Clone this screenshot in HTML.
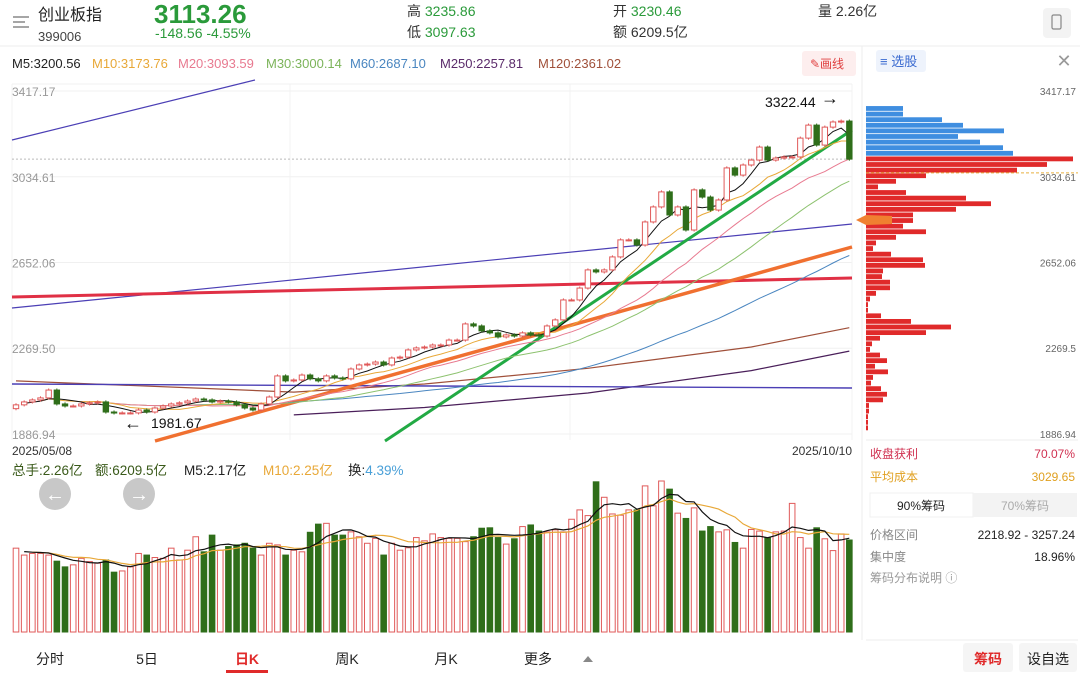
<!DOCTYPE html>
<html><head><meta charset="utf-8">
<style>
body{margin:0;width:1080px;height:675px;background:#fff;overflow:hidden;font-family:"Liberation Sans","Noto Sans CJK SC",sans-serif;}
svg{position:absolute;left:0;top:0}
text{font-family:"Liberation Sans","Noto Sans CJK SC",sans-serif}
</style></head><body>
<svg id="svg" width="1080" height="675" viewBox="0 0 1080 675">
<g>
  <g><line x1="13" y1="17" x2="29" y2="17" stroke="#888" stroke-width="1.5"/><line x1="13" y1="22" x2="25" y2="22" stroke="#888" stroke-width="1.5"/><line x1="13" y1="27" x2="29" y2="27" stroke="#888" stroke-width="1.5"/></g>
  <text x="38" y="20" font-size="16" fill="#222">创业板指</text>
  <text x="38" y="41" font-size="13" fill="#444">399006</text>
  <text x="154" y="23" font-size="26" fill="#2a9a3a" font-weight="bold">3113.26</text>
  <text x="155" y="38" font-size="14" fill="#2a9a3a">-148.56  -4.55%</text>
  <text x="407" y="16" font-size="14" fill="#2a9a3a"><tspan fill="#333">高</tspan> 3235.86</text>
  <text x="407" y="37" font-size="14" fill="#2a9a3a"><tspan fill="#333">低</tspan> 3097.63</text>
  <text x="613" y="16" font-size="14" fill="#2a9a3a"><tspan fill="#333">开</tspan> 3230.46</text>
  <text x="613" y="37" font-size="14" fill="#333">额 6209.5亿</text>
  <text x="818" y="16" font-size="14" fill="#333">量 2.26亿</text>
  <rect x="1043" y="8" width="28" height="30" rx="4" fill="#f3f3f3"/>
  <rect x="1052" y="15" width="9" height="14" rx="1.5" fill="none" stroke="#888" stroke-width="1.2"/>
  <line x1="0" y1="46" x2="1080" y2="46" stroke="#eee"/>
</g>
<g font-size="13">
  <text x="12" y="68" fill="#222">M5:3200.56</text>
  <text x="92" y="68" fill="#e8a838">M10:3173.76</text>
  <text x="178" y="68" fill="#e87a90">M20:3093.59</text>
  <text x="266" y="68" fill="#7cb45a">M30:3000.14</text>
  <text x="350" y="68" fill="#4a86c0">M60:2687.10</text>
  <text x="440" y="68" fill="#5a2a6a">M250:2257.81</text>
  <text x="538" y="68" fill="#a0503a">M120:2361.02</text>
  <rect x="802" y="51" width="54" height="25" rx="3" fill="#fdeeee"/>
  <text x="810" y="68" fill="#e04040" font-size="12">✎画线</text>
</g>
<line x1="862" y1="46" x2="862" y2="640" stroke="#eee"/>
<line x1="12" y1="84" x2="852" y2="84" stroke="#f0f0f0"/>
<g id="grid"></g>
<g id="chips"></g>
<g id="main"></g>
<g id="vol"></g>
<g>
  <text x="765" y="107" font-size="14" fill="#111">3322.44</text>
  <text x="821" y="104" font-size="18" fill="#111">→</text>
  <text x="124" y="429" font-size="18" fill="#111">←</text>
  <text x="151" y="428" font-size="14" fill="#111">1981.67</text>
  <text x="12" y="455" font-size="12" fill="#333">2025/05/08</text>
  <text x="852" y="455" font-size="12" fill="#333" text-anchor="end">2025/10/10</text>
</g>
<g font-size="13.5">
  <text x="12" y="475" fill="#3a5a1a">总手:2.26亿</text>
  <text x="95" y="475" fill="#3a5a1a">额:6209.5亿</text>
  <text x="184" y="475" fill="#222">M5:2.17亿</text>
  <text x="263" y="475" fill="#e8a838">M10:2.25亿</text>
  <text x="348" y="475" fill="#222">换:<tspan fill="#4aa0d8">4.39%</tspan></text>
</g>
<g><circle cx="55" cy="494" r="16" fill="#c8c8c8"/><text x="55" y="501" font-size="20" fill="#fff" text-anchor="middle">←</text></g>
<g><circle cx="139" cy="494" r="16" fill="#c8c8c8"/><text x="139" y="501" font-size="20" fill="#fff" text-anchor="middle">→</text></g>
<g font-size="12">
  <line x1="866" y1="440" x2="1078" y2="440" stroke="#eee"/>
  <text x="870" y="458" fill="#d03050">收盘获利</text><text x="1075" y="458" fill="#d03050" text-anchor="end">70.07%</text>
  <text x="870" y="481" fill="#e0a020">平均成本</text><text x="1075" y="481" fill="#e0a020" text-anchor="end">3029.65</text>
  <rect x="870" y="493" width="103" height="24" fill="#fff" stroke="#f0f0f0"/>
  <rect x="973" y="493" width="104" height="24" fill="#f3f3f3"/>
  <text x="921" y="510" fill="#222" text-anchor="middle">90%筹码</text>
  <text x="1025" y="510" fill="#aaa" text-anchor="middle">70%筹码</text>
  <text x="870" y="539" fill="#888">价格区间</text><text x="1075" y="539" fill="#222" text-anchor="end">2218.92 - 3257.24</text>
  <text x="870" y="561" fill="#888">集中度</text><text x="1075" y="561" fill="#222" text-anchor="end">18.96%</text>
  <text x="870" y="582" fill="#999">筹码分布说明 ⓘ</text>
  <line x1="866" y1="640" x2="1078" y2="640" stroke="#eee"/>
</g>
<g><rect x="876" y="50" width="50" height="22" rx="3" fill="#eef3fc"/><text x="880" y="66" font-size="13" fill="#3a6ad0">≡ 选股</text></g>
<text x="1064" y="67" font-size="18" fill="#999" text-anchor="middle">✕</text>
<g font-size="14" fill="#222">
  <text x="50" y="664" text-anchor="middle">分时</text>
  <text x="147" y="664" text-anchor="middle">5日</text>
  <text x="247" y="664" text-anchor="middle" fill="#e02a2a" font-weight="bold">日K</text>
  <rect x="226" y="670" width="42" height="3" fill="#e02a2a"/>
  <text x="347" y="664" text-anchor="middle">周K</text>
  <text x="446" y="664" text-anchor="middle">月K</text>
  <text x="538" y="664" text-anchor="middle">更多</text>
  <polygon points="583,662 593,662 588,656" fill="#888"/>
  <rect x="963" y="643" width="50" height="29" rx="3" fill="#f5f5f5"/>
  <text x="988" y="664" text-anchor="middle" fill="#e02a2a" font-weight="bold">筹码</text>
  <rect x="1019" y="643" width="58" height="29" rx="3" fill="#f5f5f5"/>
  <text x="1048" y="664" text-anchor="middle">设自选</text>
</g>
</svg>
<script>
const closes=[2017,2030,2039,2048,2083,2021,2012,2012,2021,2026,
2030,1985,1981,1981,1981,1994,1985,2003,2012,2021,
2026,2034,2043,2039,2030,2034,2030,2017,2003,1994,
2021,2052,2146,2124,2128,2150,2133,2124,2146,2137,
2133,2177,2195,2199,2208,2195,2226,2230,2262,2271,
2275,2284,2284,2306,2306,2378,2369,2347,2338,2320,
2329,2324,2338,2329,2324,2369,2396,2485,2485,2538,
2619,2610,2619,2677,2753,2753,2730,2833,2900,2967,
2864,2900,2797,2976,2944,2886,2931,3074,3042,3087,
3109,3167,3109,3118,3123,3123,3207,3265,3176,3256,
3279,3283,3113.26];
const firstOpen=2000;
const volumes=[2.06,1.89,1.93,1.93,1.89,1.74,1.60,1.65,1.81,1.73,
1.69,1.77,1.47,1.50,1.60,1.93,1.89,1.83,1.81,2.06,
1.77,2.01,2.34,1.97,2.38,2.01,2.10,2.14,2.18,2.06,
1.89,2.18,2.14,1.89,2.01,1.97,2.45,2.65,2.67,2.38,
2.38,2.46,2.34,2.18,2.30,1.89,2.18,2.01,2.07,2.32,
2.24,2.41,2.32,2.30,2.30,2.22,2.34,2.55,2.56,2.32,
2.16,2.29,2.59,2.63,2.48,2.46,2.51,2.46,2.77,3.00,
2.86,3.69,3.31,2.90,2.87,3.00,3.00,3.59,3.10,3.71,
3.51,2.92,2.79,3.05,2.48,2.59,2.46,2.51,2.20,2.06,
2.52,2.48,2.32,2.46,2.48,3.16,2.32,2.06,2.56,2.29,
2.00,2.41,2.26];
const priceTicks=[3417.17,3034.61,2652.06,2269.50,1886.94];
const m120Idx=[0,20,34,50,70,90,102];
const m120Vals=[2124,2095,2074,2110,2180,2275,2361];
const m250Idx=[34,50,70,90,102];
const m250Vals=[1972,2005,2070,2170,2257];
const chipTop=3350, chipStep=25;
const chipSizes=[37,37,76,97,138,92,114,137,147,
207,181,151,60,30,12,40,100,125,90,47,47,37,60,30,10,7,25,57,59,17,16,24,24,10,4,2,2,15,45,85,60,14,6,4,14,21,9,22,7,5,15,21,17,3,3,2,2,2];
const lastPrice=3113.26, avgCost=3029.65;

const NS='http://www.w3.org/2000/svg';
const PMAX=3417.17,PMIN=1886.94;
const Y=p=>91+(PMAX-p)/(PMAX-PMIN)*343;
const X=i=>16+i*8.17;
const VY=v=>632-v*40.7;
function mk(tag,attrs,parent){const e=document.createElementNS(NS,tag);for(const k in attrs)e.setAttribute(k,attrs[k]);parent.appendChild(e);return e;}
const grid=document.getElementById('grid'),main=document.getElementById('main'),vol=document.getElementById('vol'),chips=document.getElementById('chips');
priceTicks.forEach(p=>{
  const l=mk('line',{x1:12,x2:852,y1:Y(p),y2:Y(p),stroke:'#f0f0f0'},grid);
  
  
  const t=mk('text',{x:12,y:Y(p)+5,'font-size':12,fill:'#999'},grid);
  t.textContent=p.toFixed(2);
  
  
  const t2=mk('text',{x:1076,y:Y(p)+4,'font-size':10,fill:'#666','text-anchor':'end'},grid);
  t2.textContent=String(+p.toFixed(2));
  
  
});
[290,570].forEach(x=>mk('line',{x1:x,x2:x,y1:84,y2:440,stroke:'#f3f3f3'},grid));
[12,852].forEach(x=>mk('line',{x1:x,x2:x,y1:84,y2:440,stroke:'#f3f3f3'},grid));
mk('line',{x1:12,x2:852,y1:Y(lastPrice),y2:Y(lastPrice),stroke:'#bbb','stroke-dasharray':'2,2'},grid);
chipSizes.forEach((s,k)=>{
  const pt=chipTop-k*chipStep;
  const r=mk('rect',{x:866,y:Y(pt),width:s,height:Math.max(1,Y(pt-chipStep)-Y(pt)-0.8),fill:pt>3130?'#3f8ee0':'#e02a2a'},chips);
  
  
});
mk('line',{x1:866,x2:1078,y1:Y(avgCost)-5,y2:Y(avgCost)-5,stroke:'#e8b040','stroke-dasharray':'3,2'},chips);
mk('polygon',{points:'856,220 866,215 892,216 892,224 866,225',fill:'#f08030'},chips);
function ma(arr,n){return arr.map((_,i)=>{const s=Math.max(0,i-n+1);let t=0;for(let j=s;j<=i;j++)t+=arr[j];return t/(i-s+1);});}
function path(vals,idx,yf,start){let d='';vals.forEach((v,k)=>{const i=idx?idx[k]:k;if(i<start)return;d+=(d?'L':'M')+X(i).toFixed(1)+','+yf(v).toFixed(1);});return d;}
let p=mk('path',{d:path(m120Vals,m120Idx,Y,0),fill:'none',stroke:'#a0503a','stroke-width':1.2},main);

p=mk('path',{d:path(m250Vals,m250Idx,Y,0),fill:'none',stroke:'#4a1f5a','stroke-width':1.2},main);

[['12,140','255,80','#4b3fb5',1.2],['12,308','852,224','#4b3fb5',1.2],['12,384','852,388','#4b3fb5',1.4],['12,297','852,278','#e03045',3],['155,441','852,247','#f07030',3.5],['385,441','852,130','#22aa44',3]].forEach(a=>{
  const [x1,y1]=a[0].split(','),[x2,y2]=a[1].split(',');
  const l=mk('line',{x1,y1,x2,y2,stroke:a[2],'stroke-width':a[3]},main);
  
  
});
const maDefs=[[60,'#4a86c0','ma60-line',20],[30,'#8dc26f','ma30-line',10],[20,'#e87a90','ma20-line',8],[10,'#e8a838','ma10-line',3],[5,'#111','ma5-line',1]];
maDefs.forEach(([n,c,nm,st])=>{
  const e=mk('path',{d:path(ma(closes,n),null,Y,st),fill:'none',stroke:c,'stroke-width':1},main);
  
  
});
closes.forEach((c,i)=>{
  const o=i?closes[i-1]:firstOpen;
  const up=c>=o, x=X(i);
  const col=up?'#e05a5a':'#2f6e1a';
  const hi=Math.max(o,c)+7, lo=Math.min(o,c)-7;
  const w=mk('line',{x1:x,x2:x,y1:Y(hi),y2:Y(lo),stroke:col,'stroke-width':1},main);
  
  
  const top=Y(Math.max(o,c)),h=Math.max(1,Y(Math.min(o,c))-top);
  const b=mk('rect',{x:x-2.7,y:top,width:5.4,height:h,fill:up?'#fff':col,stroke:col,'stroke-width':1},main);
  
  
  const vb=mk('rect',{x:x-2.8,y:VY(volumes[i]),width:5.6,height:632-VY(volumes[i]),fill:up?'#fff':'#2f6e1a',stroke:up?'#e05a5a':'#2f6e1a','stroke-width':1},vol);
  
  
});
p=mk('path',{d:path(ma(volumes,10),null,VY,2),fill:'none',stroke:'#e8a838','stroke-width':1.2},vol);

p=mk('path',{d:path(ma(volumes,5),null,VY,1),fill:'none',stroke:'#111','stroke-width':1.2},vol);

</script>
</body></html>
